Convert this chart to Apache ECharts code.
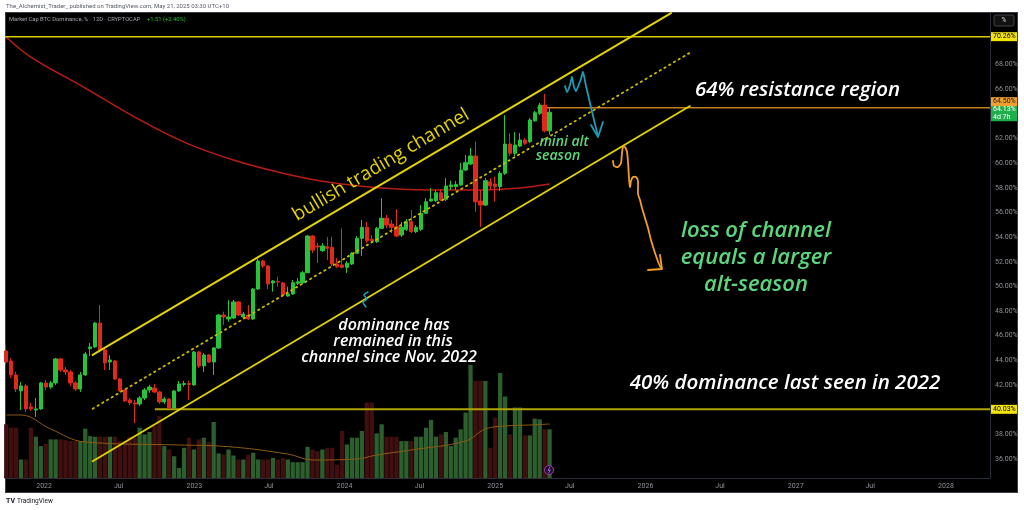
<!DOCTYPE html>
<html>
<head>
<meta charset="utf-8">
<script src="https://cdn.jsdelivr.net/npm/echarts@6/dist/echarts.min.js"></script>
<style>
  html, body { margin:0; padding:0; background:#ffffff; width:1024px; height:510px; overflow:hidden; }
  #frame { position:absolute; left:5px; top:12px; width:1013px; height:481px; background:#000; box-sizing:border-box; border:1px solid #3a3d45; }
  #chart { position:absolute; left:0; top:0; width:1024px; height:510px; }
</style>
</head>
<body>
<div id="frame"></div>
<div id="chart"></div>
<script>
// ---------------- DATA ----------------
const firstDate = '2021-10-01';   // first 12D candle
const stepDays = 12;

const opens = [44.76,43.95,42.82,41.52,41.93,40.22,39.98,40.06,42.17,41.84,
  42.17,44.12,43.22,43.06,42.17,41.68,42.82,44.95,45.09,47.03,
  44.84,43.87,43.95,42.49,41.60,40.79,40.55,40.47,40.95,41.60,
  41.76,41.44,40.63,40.87,40.14,41.52,42.05,42.12,42.01,44.68,
  43.55,44.44,43.87,45.01,47.68,47.36,47.44,48.74,47.52,47.68,
  47.36,49.79,52.06,51.66,50.28,50.40,50.28,49.22,49.39,50.25,
  50.30,51.11,54.09,53.28,52.90,53.22,53.17,51.82,51.74,51.55,
  51.82,52.69,53.90,54.80,53.82,53.63,54.71,55.53,55.06,54.84,
  54.17,54.63,55.25,54.44,54.63,55.93,56.93,56.95,57.60,57.07,
  58.09,58.09,58.23,59.44,59.93,60.58,56.93,56.60,58.49,58.31,
  58.09,59.18,61.55,60.80,61.39,61.88,61.74,63.44,64.04,64.71,
  62.62];
const closes = [43.87,42.82,41.68,41.93,40.06,40.06,40.06,42.17,41.84,42.17,
  44.12,43.22,43.06,42.17,41.68,42.82,44.52,45.09,47.03,44.84,
  43.79,44.03,42.49,41.52,40.71,40.55,40.47,40.95,41.60,41.84,
  41.44,40.63,40.87,40.14,41.52,42.09,42.12,42.05,44.68,43.55,
  44.44,43.87,45.01,47.68,47.52,47.52,48.74,47.68,47.76,47.36,
  49.79,52.06,51.66,50.20,50.44,50.36,49.31,49.39,50.30,50.38,
  51.11,54.09,52.95,53.20,53.28,53.09,51.82,51.60,51.55,51.88,
  52.69,53.90,54.80,53.71,53.71,54.71,55.53,54.98,54.80,54.09,
  54.80,55.25,54.44,54.80,55.93,56.87,57.09,57.60,57.01,58.15,
  58.23,58.28,59.44,60.04,60.58,56.87,56.60,58.58,58.15,58.09,
  59.18,61.55,60.80,61.47,61.88,61.61,63.50,64.09,64.71,62.62,
  64.13];
const lows = [43.63,42.57,41.44,39.98,39.82,39.90,39.41,39.98,41.60,41.68,
  42.01,43.06,42.82,41.93,41.52,41.44,42.74,44.36,45.01,44.70,
  43.22,43.22,42.41,41.44,40.63,40.38,38.92,40.30,40.79,41.36,
  41.36,40.47,40.47,40.06,40.06,41.44,41.87,40.79,41.93,43.39,
  43.06,43.79,42.82,44.93,46.87,47.14,47.36,47.60,47.44,47.28,
  47.28,49.71,51.50,49.79,49.57,49.98,49.14,49.17,49.31,50.12,
  50.20,51.09,52.71,51.90,52.79,52.14,51.66,51.50,51.47,51.09,
  51.74,52.63,52.47,53.52,53.52,53.52,54.66,54.74,54.33,53.99,
  54.01,54.50,54.33,54.33,54.50,55.87,56.85,56.85,56.93,56.93,
  57.82,57.82,58.15,59.36,59.85,56.06,54.84,56.52,57.82,56.87,
  57.74,59.04,60.58,60.58,61.31,61.47,61.63,63.34,63.90,62.50,
  62.30];
const highs = [45.25,44.20,43.06,42.25,42.09,40.55,40.95,42.25,42.41,42.33,
  44.20,44.20,43.47,43.22,42.33,43.06,44.68,45.41,47.12,48.49,
  44.93,44.44,44.03,42.57,41.68,40.95,40.79,41.11,41.76,42.01,
  42.09,41.52,41.03,40.95,41.60,42.33,42.35,42.35,44.76,44.76,
  44.60,44.52,45.09,47.76,47.95,48.90,48.90,48.82,47.93,48.49,
  49.87,52.23,52.14,51.74,50.52,50.79,50.36,49.98,50.52,50.68,
  51.25,54.17,54.17,53.55,53.52,54.01,54.03,52.31,54.71,52.06,
  52.79,54.09,55.39,55.23,54.17,54.82,57.15,55.79,55.39,56.26,
  55.23,55.47,56.20,54.98,56.60,57.17,57.98,57.82,57.90,58.79,
  58.58,58.55,60.01,60.66,61.23,61.74,57.82,58.79,58.79,58.90,
  59.36,63.90,62.42,62.52,62.44,62.04,63.66,64.23,64.88,65.61,
  64.50];
const volumes = [53.7,50.3,50.3,18.5,18.5,50.3,41.3,31.9,34.2,38.6,
  38.6,38.6,37.9,36.9,36.9,36.9,49.3,41.9,41.3,41.3,
  41.3,41.3,41.3,36.9,36.9,41.3,40.3,50.3,43.6,46.0,
  52.0,62.1,31.9,28.5,21.8,10.1,30.2,40.3,28.5,38.6,
  40.3,35.9,56.0,24.5,23.5,28.5,22.5,18.5,18.5,23.2,
  25.2,18.5,18.5,18.5,20.1,18.5,20.1,18.5,15.8,15.8,
  15.8,31.2,28.5,26.8,28.5,30.2,30.2,13.4,47.0,33.6,
  40.3,40.3,47.0,75.5,75.5,44.6,53.7,41.3,41.3,41.3,
  36.9,36.9,36.9,41.3,41.3,50.3,58.1,41.3,43.6,46.0,
  31.9,40.3,48.7,65.4,113.1,97.3,97.3,97.0,30.2,60.4,
  105.0,81.5,43.6,70.5,70.5,42.6,42.6,59.4,58.7,48.7,
  48.7];
// moving average of price (red) read at candle indices
const priceMaIdx  = [0, 5, 16, 26, 36, 46, 55, 65, 76, 86, 96, 104, 110];
const priceMaVals = [70.23,68.60,66.09,63.74,61.71,60.25,59.28,58.47,57.98,57.82,57.82,57.98,58.30];
// moving average of volume (orange) read at candle indices
const volMaIdx  = [0, 3, 9, 16, 35, 43, 57, 62, 71, 75, 82, 93, 97, 101, 106, 110];
const volMaVals = [63, 63, 49, 36, 33, 32, 24, 18, 19, 23, 28, 37, 49, 52, 53, 54];

// drawn levels and channel
const levelTop = 70.26, levelRes = 64.50, levelLast = 64.13, levelLow = 40.03;
const resStart = '2025-04-13';
const lowStart = '2022-09-27';
const upperChannel = [['2022-04-29', 44.44], ['2026-03-04', 72.17]];
const lowerChannel = [['2022-04-29', 35.82], ['2026-04-19', 64.63]];
const midChannel   = [['2022-04-29', 40.08], ['2026-04-19', 68.96]];

const tickDates  = ['2022-01-01','2022-07-01','2023-01-01','2023-07-01','2024-01-01','2024-07-01','2025-01-01','2025-07-01','2026-01-01','2026-07-01','2027-01-01','2027-07-01','2028-01-01'];
const tickLabels = ['2022','Jul','2023','Jul','2024','Jul','2025','Jul','2026','Jul','2027','Jul','2028'];
const priceTicks = [36,38,40,42,44,46,48,50,52,54,56,58,60,62,64,66,68];

// ---------------- BUILD ----------------
const DAY = 86400000, BASE = Date.UTC(2022,0,1);
function dayOf(s){ const p = s.split('-').map(Number); return (Date.UTC(p[0],p[1]-1,p[2]) - BASE)/DAY; }
const d0 = dayOf(firstDate);
const cDays = opens.map((_, i) => d0 + stepDays * i);
const xMin = -95, xMax = 2298;
const UP = '#26c43a', DN = '#e0281d';
const VUP = '#2c5e2e', VDN = '#401010';

const candleData = opens.map((o, i) => [cDays[i], o, closes[i], lows[i], highs[i]]);
const volData = volumes.map((v, i) => ({ value: [cDays[i], v], itemStyle: { color: closes[i] >= opens[i] ? VUP : VDN } }));
const maData = priceMaIdx.map((k, j) => [cDays[k], priceMaVals[j]]);
const vmaData = volMaIdx.map((k, j) => [cDays[k], volMaVals[j]]);
const tickDays = tickDates.map(dayOf);
const seg = arr => arr.map(p => [dayOf(p[0]), p[1]]);

function hline(v, startDay, color, width) {
  return { type:'line', xAxisIndex:0, yAxisIndex:0, data:[[startDay, v],[xMax, v]], symbol:'none', silent:true,
           lineStyle:{ color, width }, z:3, animation:false };
}
function chan(pts, color, width, type) {
  return { type:'line', xAxisIndex:0, yAxisIndex:0, data: seg(pts), symbol:'none', silent:true,
           lineStyle:{ color, width, type: type || 'solid', cap:'round' }, z:6, animation:false };
}

const chart = echarts.init(document.getElementById('chart'));
const option = {
  animation: false,
  backgroundColor: 'transparent',
  grid: { left: 5, right: 34, top: 13, bottom: 32 },
  xAxis: {
    type: 'value', min: xMin, max: xMax,
    axisLine: { show: true, onZero: false, lineStyle: { color: '#2a2e39', width: 1 } },
    axisTick: { show: false }, splitLine: { show: false },
    axisLabel: {
      customValues: tickDays,
      formatter: v => { let b = 0; tickDays.forEach((t, i) => { if (Math.abs(t - v) < Math.abs(tickDays[b] - v)) b = i; }); return tickLabels[b]; },
      color: '#8f929b', fontSize: 7, fontFamily: 'Roboto', margin: 5
    }
  },
  yAxis: [
    { type: 'value', position: 'right', min: 34.46, max: 72.18,
      axisLine: { show: true, onZero: false, lineStyle: { color: '#2a2e39', width: 1 } },
      axisTick: { show: false }, splitLine: { show: false },
      axisLabel: { customValues: priceTicks, formatter: v => v.toFixed(2) + '%', color: '#8f929b', fontSize: 7, fontFamily: 'Roboto', margin: 5 } },
    { type: 'value', min: 0, max: 465, show: false, axisLine: { onZero: false } }
  ],
  series: [
    { type:'bar', xAxisIndex:0, yAxisIndex:1, data: volData, barWidth: 4.3, silent:true, z:1 },
    { type:'line', xAxisIndex:0, yAxisIndex:1, data: vmaData, smooth: 0.4, symbol:'none', silent:true,
      lineStyle:{ color:'#8c5a12', width:1 }, z:2 },
    { type:'line', xAxisIndex:0, yAxisIndex:0, data: maData, smooth: 0.4, symbol:'none', silent:true,
      lineStyle:{ color:'#b81d13', width:1.5 }, z:3 },
    hline(levelTop, xMin, '#d9cc00', 1.5),
    hline(levelRes, dayOf(resStart), '#c27e22', 1.5),
    hline(levelLow, dayOf(lowStart), '#b0a500', 2),
    chan(upperChannel, '#e3d400', 2),
    chan(lowerChannel, '#e3d400', 1.8),
    chan(midChannel, '#c9bb00', 1.8, [1.5, 4]),
    { type:'candlestick', xAxisIndex:0, yAxisIndex:0, data: candleData, barWidth: 3.8, silent:true,
      dimensions:['date','open','close','low','high'], encode:{ x:0, y:[1,2,3,4] },
      itemStyle:{ color: UP, color0: DN, borderColor: UP, borderColor0: DN, borderWidth: 1 }, z:5 }
  ]
};
chart.setOption(option);

// ---------------- ANNOTATIONS ----------------
const py = v => chart.convertToPixel({ yAxisIndex: 0 }, v);
const F = 'Open Sans';
function txt(x, y, text, size, color, opt) {
  opt = opt || {};
  return { type:'text', x, y, rotation: opt.rot || 0, z: opt.z || 100, silent: true,
    style: { text, fill: color, fontSize: size, fontFamily: opt.family || F, fontStyle: opt.italic ? 'italic' : 'normal',
             fontWeight: opt.weight || 'normal', textAlign: opt.align || 'center', textVerticalAlign: 'middle' } };
}
function pl(points, color, w, smooth) {
  return { type:'polyline', z: 100, silent: true, shape: { points, smooth: smooth || 0 },
           style: { stroke: color, lineWidth: w, fill: null, lineCap:'round', lineJoin:'round' } };
}
function priceTag(v, bg, fg, text, dy, h) {
  const y = py(v) + (dy || 0); h = h || 9;
  return [
    { type:'rect', z: 110, silent:true, shape:{ x: 991, y: y - h/2, width: 26, height: h }, style:{ fill: bg } },
    { type:'text', z: 111, silent:true, x: 993, y: y, style:{ text, fill: fg, fontSize: 7, fontFamily:'Roboto', textAlign:'left', textVerticalAlign:'middle', lineHeight: 8 } }
  ];
}
const GREEN = '#5cd67e', TEAL = '#1d9bb5', ORANGE = '#f39c26';
const g = [].concat(
  // top publisher strip
  [txt(6, 6, 'The_Alchemist_Trader_ published on TradingView.com, May 21, 2025 03:30 UTC+10', 6, '#555a66', { align:'left', family:'Roboto' })],
  // legend
  [txt(9, 20, 'Market Cap BTC Dominance, % · 12D · CRYPTOCAP', 5.8, '#a3a6af', { align:'left', family:'Roboto' }),
   txt(147, 20, '+1.51 (+2.40%)', 5.8, '#22c43a', { align:'left', family:'Roboto' })],
  // % box
  [{ type:'rect', z:110, silent:true, shape:{ x: 994, y: 15, width: 20, height: 11, r: 2 }, style:{ fill:'#111', stroke:'#50535c', lineWidth: 0.8 } },
   txt(1004, 20.5, '%', 6.5, '#d1d4dc', { family:'Roboto', z: 112 })],
  // price tags
  priceTag(levelTop, '#f2e30a', '#000', levelTop.toFixed(2) + '%'),
  priceTag(levelLast, '#1fae4b', '#ffffff', levelLast.toFixed(2) + '%\n4d 7h', 1, 16),
  priceTag(levelRes, '#f0a030', '#1a1a1a', levelRes.toFixed(2) + '%', -6),
  priceTag(levelLow, '#f2e30a', '#000', levelLow.toFixed(2) + '%'),
  // annotations text
  [txt(381, 165, 'bullish trading channel', 19, '#e3d400', { rot: 30.8 * Math.PI / 180, weight: 500 }),
   txt(695, 90, '64% resistance region', 20.5, '#ffffff', { align:'left', italic:true, weight: 600 }),
   txt(564, 142, 'mini alt', 14, GREEN, { italic:true, weight: 600 }),
   txt(558, 156, 'season', 14, GREEN, { italic:true, weight: 600 }),
   txt(756, 231, 'loss of channel', 22, GREEN, { italic:true, weight: 600 }),
   txt(756, 258, 'equals a larger', 22, GREEN, { italic:true, weight: 600 }),
   txt(756, 285, 'alt-season', 22, GREEN, { italic:true, weight: 600 }),
   txt(394, 325, 'dominance has', 16, '#ffffff', { italic:true, weight: 600 }),
   txt(393, 341, 'remained in this', 16, '#ffffff', { italic:true, weight: 600 }),
   txt(389, 357, 'channel since Nov. 2022', 16, '#ffffff', { italic:true, weight: 600 }),
   txt(785, 383, '40% dominance last seen in 2022', 20.5, '#ffffff', { italic:true, weight: 600 })],
  // hand drawn arrows
  [pl([[565,86],[567,92],[570,85],[572,77],[574,87],[576,91],[579,84],[581,79],[583,72],[586,86],[590,103],[594,120],[598,136]], TEAL, 1.8, 0.2),
   pl([[591,125],[598,137],[603,122]], TEAL, 1.8),
   pl([[613,161],[614,166],[618,167],[621,163],[622,153],[623,147],[625,147],[627,152],[628,162],[629,178],[630,187],[631,181],[633,177],[636,177],[638,181],[638,194],[640,200],[642,208],[645,218],[648,228],[651,240],[655,253],[659,264],[661,268]], ORANGE, 1.8, 0.2),
   pl([[648,270],[662,269],[660,255]], ORANGE, 1.8),
   pl([[366,307],[363,302],[367,299],[364,295],[368,292]], TEAL, 1.5, 0.3)],
  // events icon
  [{ type:'circle', z:100, silent:true, shape:{ cx: 549, cy: 470, r: 4.5 }, style:{ fill:'#1a0f22', stroke:'#9c3fb5', lineWidth: 1 } },
   pl([[550,467],[548,470.5],[550.5,470],[548.5,473]], '#c060dd', 0.9)],
  // bottom logo
  [txt(6, 501, 'TV', 7, '#131722', { align:'left', family:'Roboto', weight: 'bold' }),
   txt(17, 501, 'TradingView', 6.5, '#131722', { align:'left', family:'Roboto' })]
);
chart.setOption({ graphic: { elements: g } });
</script>
</body>
</html>
